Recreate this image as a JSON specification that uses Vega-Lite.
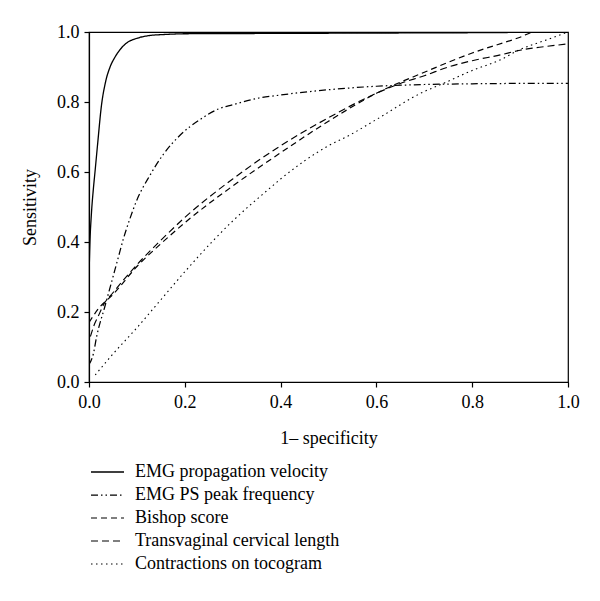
{
  "$schema": "https://vega.github.io/schema/vega-lite/v6.json",
  "autosize": {"type": "none"},
  "padding": {"left": 89, "top": 32, "right": 32, "bottom": 219},
  "width": 479,
  "height": 350,
  "background": "white",
  "config": {
    "font": "Liberation Serif",
    "view": {"stroke": "black", "strokeWidth": 1.2},
    "axis": {
      "grid": false,
      "domainColor": "black",
      "domainWidth": 1.2,
      "tickColor": "black",
      "tickWidth": 1.2,
      "tickSize": 5,
      "labelFont": "Liberation Serif",
      "labelFontSize": 18,
      "labelColor": "black",
      "titleFont": "Liberation Serif",
      "titleFontSize": 18,
      "titleFontWeight": "normal",
      "titleColor": "black"
    },
    "legend": {
      "labelFont": "Liberation Serif",
      "labelFontSize": 18,
      "labelColor": "black",
      "labelLimit": 500,
      "padding": 0
    }
  },
  "data": {
    "values": [
      {"series": "EMG propagation velocity", "x": 0, "y": 0.3},
      {"series": "EMG propagation velocity", "x": 0.002, "y": 0.4},
      {"series": "EMG propagation velocity", "x": 0.005, "y": 0.48},
      {"series": "EMG propagation velocity", "x": 0.009, "y": 0.55},
      {"series": "EMG propagation velocity", "x": 0.0125, "y": 0.6},
      {"series": "EMG propagation velocity", "x": 0.018, "y": 0.68},
      {"series": "EMG propagation velocity", "x": 0.026, "y": 0.79},
      {"series": "EMG propagation velocity", "x": 0.035, "y": 0.86},
      {"series": "EMG propagation velocity", "x": 0.044, "y": 0.9},
      {"series": "EMG propagation velocity", "x": 0.055, "y": 0.93},
      {"series": "EMG propagation velocity", "x": 0.065, "y": 0.95},
      {"series": "EMG propagation velocity", "x": 0.08, "y": 0.97},
      {"series": "EMG propagation velocity", "x": 0.1, "y": 0.982},
      {"series": "EMG propagation velocity", "x": 0.127, "y": 0.99},
      {"series": "EMG propagation velocity", "x": 0.16, "y": 0.993},
      {"series": "EMG propagation velocity", "x": 0.2, "y": 0.995},
      {"series": "EMG propagation velocity", "x": 0.4, "y": 0.996},
      {"series": "EMG propagation velocity", "x": 0.6, "y": 0.997},
      {"series": "EMG propagation velocity", "x": 0.8, "y": 0.998},
      {"series": "EMG propagation velocity", "x": 1.0, "y": 1.0},

      {"series": "EMG PS peak frequency", "x": 0, "y": 0.05},
      {"series": "EMG PS peak frequency", "x": 0.009, "y": 0.08},
      {"series": "EMG PS peak frequency", "x": 0.016, "y": 0.13},
      {"series": "EMG PS peak frequency", "x": 0.033, "y": 0.215},
      {"series": "EMG PS peak frequency", "x": 0.047, "y": 0.285},
      {"series": "EMG PS peak frequency", "x": 0.06, "y": 0.35},
      {"series": "EMG PS peak frequency", "x": 0.072, "y": 0.41},
      {"series": "EMG PS peak frequency", "x": 0.085, "y": 0.465},
      {"series": "EMG PS peak frequency", "x": 0.1, "y": 0.52},
      {"series": "EMG PS peak frequency", "x": 0.127, "y": 0.59},
      {"series": "EMG PS peak frequency", "x": 0.155, "y": 0.65},
      {"series": "EMG PS peak frequency", "x": 0.19, "y": 0.705},
      {"series": "EMG PS peak frequency", "x": 0.232, "y": 0.75},
      {"series": "EMG PS peak frequency", "x": 0.27, "y": 0.78},
      {"series": "EMG PS peak frequency", "x": 0.3, "y": 0.792},
      {"series": "EMG PS peak frequency", "x": 0.35, "y": 0.81},
      {"series": "EMG PS peak frequency", "x": 0.4, "y": 0.82},
      {"series": "EMG PS peak frequency", "x": 0.5, "y": 0.835},
      {"series": "EMG PS peak frequency", "x": 0.6, "y": 0.845},
      {"series": "EMG PS peak frequency", "x": 0.7, "y": 0.85},
      {"series": "EMG PS peak frequency", "x": 0.8, "y": 0.852},
      {"series": "EMG PS peak frequency", "x": 0.9, "y": 0.853},
      {"series": "EMG PS peak frequency", "x": 1.0, "y": 0.853},

      {"series": "Bishop score", "x": 0, "y": 0.17},
      {"series": "Bishop score", "x": 0.02, "y": 0.21},
      {"series": "Bishop score", "x": 0.05, "y": 0.25},
      {"series": "Bishop score", "x": 0.1, "y": 0.33},
      {"series": "Bishop score", "x": 0.15, "y": 0.395},
      {"series": "Bishop score", "x": 0.2, "y": 0.455},
      {"series": "Bishop score", "x": 0.3, "y": 0.56},
      {"series": "Bishop score", "x": 0.4, "y": 0.655},
      {"series": "Bishop score", "x": 0.5, "y": 0.745},
      {"series": "Bishop score", "x": 0.6, "y": 0.825},
      {"series": "Bishop score", "x": 0.7, "y": 0.885},
      {"series": "Bishop score", "x": 0.8, "y": 0.94},
      {"series": "Bishop score", "x": 0.9, "y": 0.985},
      {"series": "Bishop score", "x": 0.93, "y": 1.0},
      {"series": "Bishop score", "x": 1.0, "y": 1.0},

      {"series": "Transvaginal cervical length", "x": 0.003, "y": 0.13},
      {"series": "Transvaginal cervical length", "x": 0.01, "y": 0.16},
      {"series": "Transvaginal cervical length", "x": 0.02, "y": 0.19},
      {"series": "Transvaginal cervical length", "x": 0.03, "y": 0.22},
      {"series": "Transvaginal cervical length", "x": 0.05, "y": 0.255},
      {"series": "Transvaginal cervical length", "x": 0.1, "y": 0.335},
      {"series": "Transvaginal cervical length", "x": 0.15, "y": 0.405},
      {"series": "Transvaginal cervical length", "x": 0.2, "y": 0.47},
      {"series": "Transvaginal cervical length", "x": 0.3, "y": 0.58},
      {"series": "Transvaginal cervical length", "x": 0.4, "y": 0.675},
      {"series": "Transvaginal cervical length", "x": 0.5, "y": 0.755},
      {"series": "Transvaginal cervical length", "x": 0.6, "y": 0.825},
      {"series": "Transvaginal cervical length", "x": 0.65, "y": 0.853},
      {"series": "Transvaginal cervical length", "x": 0.7, "y": 0.875},
      {"series": "Transvaginal cervical length", "x": 0.75, "y": 0.9},
      {"series": "Transvaginal cervical length", "x": 0.8, "y": 0.918},
      {"series": "Transvaginal cervical length", "x": 0.86, "y": 0.935},
      {"series": "Transvaginal cervical length", "x": 0.9, "y": 0.948},
      {"series": "Transvaginal cervical length", "x": 0.95, "y": 0.958},
      {"series": "Transvaginal cervical length", "x": 1.0, "y": 0.966},

      {"series": "Contractions on tocogram", "x": 0.013, "y": 0.02},
      {"series": "Contractions on tocogram", "x": 0.05, "y": 0.08},
      {"series": "Contractions on tocogram", "x": 0.1, "y": 0.155},
      {"series": "Contractions on tocogram", "x": 0.15, "y": 0.235},
      {"series": "Contractions on tocogram", "x": 0.2, "y": 0.315},
      {"series": "Contractions on tocogram", "x": 0.26, "y": 0.405},
      {"series": "Contractions on tocogram", "x": 0.3, "y": 0.46},
      {"series": "Contractions on tocogram", "x": 0.37, "y": 0.545},
      {"series": "Contractions on tocogram", "x": 0.4, "y": 0.58},
      {"series": "Contractions on tocogram", "x": 0.5, "y": 0.675},
      {"series": "Contractions on tocogram", "x": 0.545, "y": 0.706},
      {"series": "Contractions on tocogram", "x": 0.6, "y": 0.75},
      {"series": "Contractions on tocogram", "x": 0.7, "y": 0.83},
      {"series": "Contractions on tocogram", "x": 0.733, "y": 0.849},
      {"series": "Contractions on tocogram", "x": 0.8, "y": 0.89},
      {"series": "Contractions on tocogram", "x": 0.858, "y": 0.92},
      {"series": "Contractions on tocogram", "x": 0.9, "y": 0.95},
      {"series": "Contractions on tocogram", "x": 0.95, "y": 0.975},
      {"series": "Contractions on tocogram", "x": 1.0, "y": 1.0}
    ]
  },
  "mark": {"type": "line", "color": "black", "clip": true, "interpolate": "monotone"},
  "encoding": {
    "x": {
      "field": "x", "type": "quantitative",
      "scale": {"domain": [0, 1], "nice": false},
      "axis": {"title": "1\u2013 specificity", "values": [0, 0.2, 0.4, 0.6, 0.8, 1.0], "format": ".1f", "labelPadding": 6, "titlePadding": 18, "labelFlush": false}
    },
    "y": {
      "field": "y", "type": "quantitative",
      "scale": {"domain": [0, 1], "nice": false},
      "axis": {"title": "Sensitivity", "values": [0, 0.2, 0.4, 0.6, 0.8, 1.0], "format": ".1f", "labelPadding": 5, "titlePadding": 17, "labelFlush": false}
    },
    "strokeDash": {
      "field": "series", "type": "nominal",
      "scale": {
        "domain": ["EMG propagation velocity", "EMG PS peak frequency", "Bishop score", "Transvaginal cervical length", "Contractions on tocogram"],
        "range": [[1, 0], [7, 3, 1.5, 3, 1.5, 3], [6, 4], [7, 4], [1.5, 3.5]]
      },
      "legend": {
        "title": null,
        "orient": "none",
        "legendX": 7.5,
        "legendY": 429,
        "symbolType": "M-1.65,0H1.65",
        "symbolSize": 400,
        "symbolStrokeColor": "black",
        "symbolFillColor": "transparent",
        "rowPadding": 3,
        "labelOffset": 16.5
      }
    },
    "strokeWidth": {
      "field": "series", "type": "nominal",
      "scale": {
        "domain": ["EMG propagation velocity", "EMG PS peak frequency", "Bishop score", "Transvaginal cervical length", "Contractions on tocogram"],
        "range": [1.3, 1.1, 1.2, 2, 1.1]
      },
      "legend": {
        "title": null,
        "orient": "none",
        "legendX": 7.5,
        "legendY": 429,
        "symbolType": "M-1.65,0H1.65",
        "symbolSize": 400,
        "symbolStrokeColor": "black",
        "symbolFillColor": "transparent",
        "rowPadding": 3,
        "labelOffset": 16.5
      }
    }
  }
}
